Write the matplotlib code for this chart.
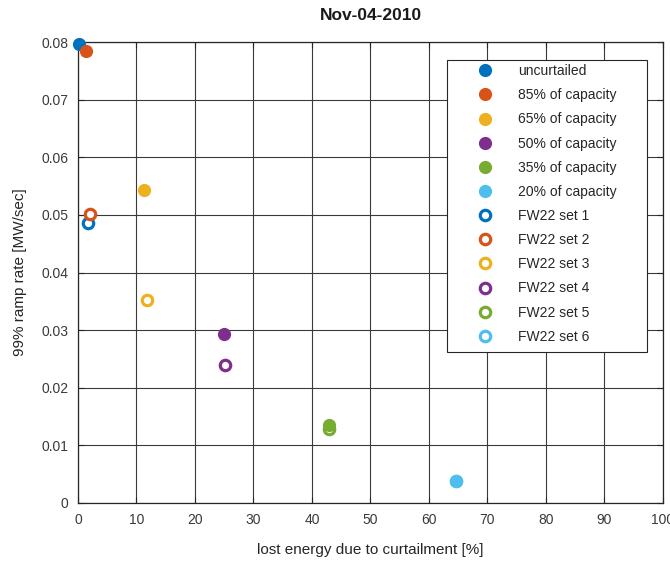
import matplotlib
matplotlib.use("Agg")
import matplotlib.pyplot as plt
from matplotlib.patches import Rectangle

# curtailment scenarios: lost energy [%] vs 99% ramp rate [MW/sec]
cap_labels = ["uncurtailed", "85% of capacity", "65% of capacity",
              "50% of capacity", "35% of capacity", "20% of capacity"]
cap_lost = [0.2, 1.4, 11.3, 24.9, 42.9, 64.6]
cap_ramp = [0.0797, 0.0784, 0.0544, 0.0294, 0.0135, 0.0038]

fw_labels = ["FW22 set 1", "FW22 set 2", "FW22 set 3",
             "FW22 set 4", "FW22 set 5", "FW22 set 6"]
fw_lost = [1.7, 2.1, 11.8, 25.2, 42.9, 64.6]
fw_ramp = [0.0486, 0.0501, 0.0353, 0.0240, 0.0129, 0.0038]

colors = ["#0072BD", "#D95319", "#EDB120", "#7E2F8E", "#77AC30", "#4DBEEE"]

plt.rcParams["font.family"] = ["Liberation Sans", "DejaVu Sans"]

fig = plt.figure(figsize=(6.7, 5.61), dpi=100)
ax = fig.add_axes([0.1164, 0.1034, 0.873, 0.8217])

# filled dots sit on top of the open rings
for lab, x, y, c in zip(cap_labels, cap_lost, cap_ramp, colors):
    ax.plot(x, y, "o", color=c, markersize=9.5, markeredgewidth=0, label=lab,
            zorder=4, clip_on=False)
for lab, x, y, c in zip(fw_labels, fw_lost, fw_ramp, colors):
    ax.plot(x, y, "o", markerfacecolor="white", markeredgecolor=c,
            markersize=7.5, markeredgewidth=2.3, label=lab, zorder=3, clip_on=False)

ax.set_xlim(0, 100)
ax.set_ylim(0, 0.08)
ax.set_xticks(range(0, 101, 10))
ax.set_yticks([0, 0.01, 0.02, 0.03, 0.04, 0.05, 0.06, 0.07, 0.08])
ax.set_yticklabels(["0", "0.01", "0.02", "0.03", "0.04", "0.05", "0.06", "0.07", "0.08"])
ax.grid(True, color="#3a3a3a", linewidth=0.8)
ax.set_axisbelow(True)
ax.tick_params(direction="in", length=4, labelsize=10, colors="#262626",
               labelcolor="#3a3a3a", top=True, right=True, pad=7)
for s in ax.spines.values():
    s.set_color("#262626")
    s.set_linewidth(0.9)

ax.set_xlabel("lost energy due to curtailment [%]", fontsize=11, color="#262626", labelpad=12)
ax.set_ylabel("99% ramp rate [MW/sec]", fontsize=11, color="#262626", labelpad=10)
ax.set_title("Nov-04-2010", fontsize=12.5, fontweight="bold", color="#1a1a1a", pad=16)

# legend box is drawn separately so it can be wider than its entries
box = Rectangle((0.631, 0.3275), 0.3416, 0.6335, transform=ax.transAxes,
                facecolor="white", edgecolor="#262626", linewidth=0.8, zorder=5)
ax.add_patch(box)
leg = ax.legend(loc="upper left", bbox_to_anchor=(0.631, 0.961), fontsize=10,
                frameon=False, borderpad=0.3, labelspacing=0.73,
                handletextpad=0.0, borderaxespad=0, handlelength=4.8)
leg.set_zorder(6)
for t in leg.get_texts():
    t.set_color("#262626")

fig.savefig("out.png", dpi=100)
